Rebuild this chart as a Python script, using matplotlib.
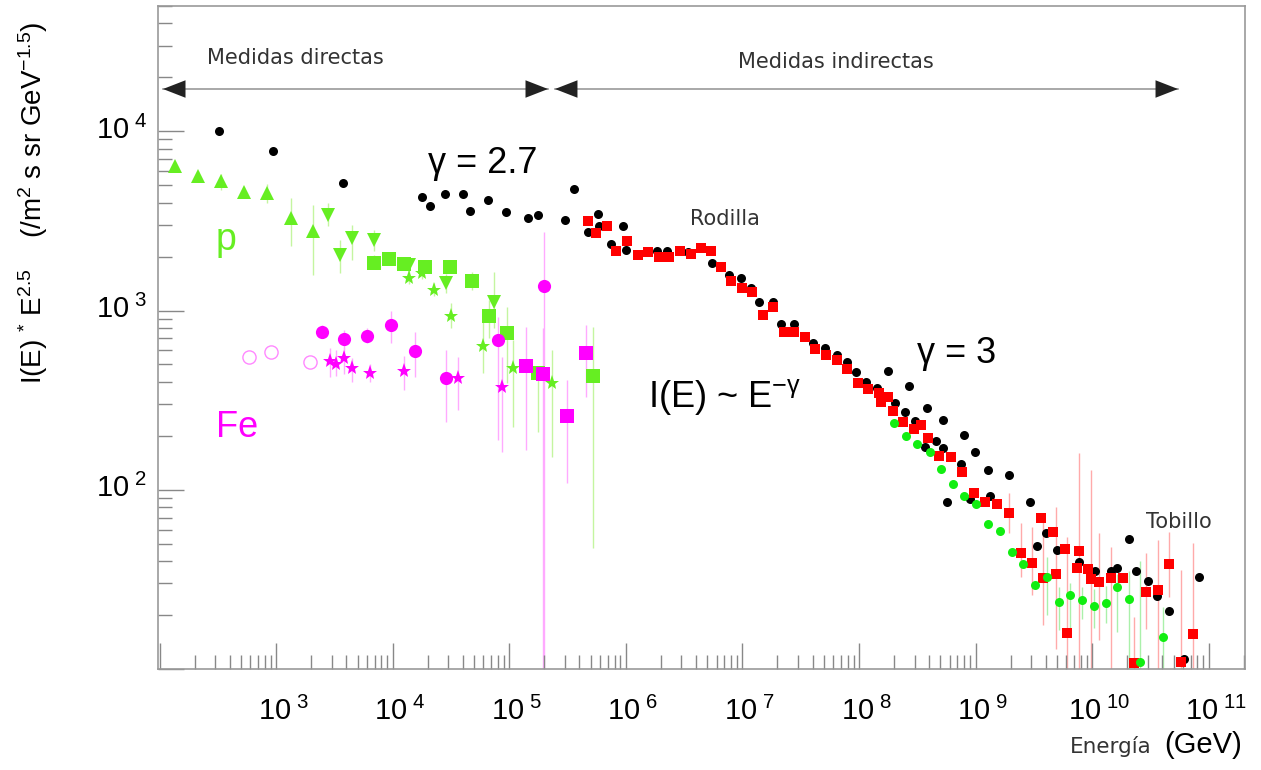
import numpy as np
import matplotlib
matplotlib.use('Agg')
import matplotlib.pyplot as plt
from matplotlib.ticker import LogLocator, NullFormatter
from matplotlib.transforms import ScaledTranslation

# all-particle spectrum, black circles (E in GeV, flux * E^2.5)
all_E = [324, 949, 3730, 17800, 20900, 28100, 39900, 46100, 65300, 93200, 146000, 177000,
         301000, 360000, 478000, 581000, 593000, 747000, 953000, 1.0e6, 1.84e6, 2.24e6,
         3.43e6, 5.49e6, 7.67e6, 9.66e6, 1.18e7, 1.39e7, 1.82e7, 2.14e7, 2.77e7, 4.01e7,
         5.12e7, 6.44e7, 7.85e7, 9.43e7, 1.14e8, 1.42e8, 1.76e8, 2.05e8, 2.49e8, 2.70e8,
         3.04e8, 3.68e8, 3.87e8, 4.57e8, 5.21e8, 5.31e8, 5.74e8, 7.57e8, 7.98e8, 8.95e8,
         9.98e8, 1.29e9, 1.33e9, 1.95e9, 2.93e9, 3.34e9, 4.02e9, 4.96e9, 7.66e9, 1.06e10,
         1.44e10, 1.65e10, 2.08e10, 2.36e10, 2.99e10, 3.59e10, 4.55e10, 6.16e10, 8.26e10]
all_F = [10000, 7730, 5150, 4280, 3810, 4470, 4470, 3600, 4120, 3560, 3280, 3400,
         3180, 4790, 2730, 3460, 2950, 2350, 2950, 2180, 2140, 2140,
         2110, 1850, 1570, 1517, 1335, 1109, 1114, 843, 843, 663,
         621, 565, 516, 456, 401, 371, 460, 306, 271, 381,
         243, 173, 285, 188, 170, 245, 85.7, 140, 202, 88.4,
         162, 129, 92.2, 121, 85.7, 48.4, 57.0, 46.0, 39.6, 35.3,
         35.3, 36.7, 53.2, 35.3, 30.9, 25.5, 21.0, 11.3, 32.6]

# red squares
red_E = [478000, 555000, 685000, 823000, 1.02e6, 1.26e6, 1.56e6, 1.94e6, 2.36e6, 2.92e6,
         3.60e6, 4.41e6, 5.37e6, 6.54e6, 7.98e6, 9.86e6, 1.22e7, 1.49e7, 1.84e7, 2.28e7,
         2.79e7, 3.44e7, 4.20e7, 5.21e7, 6.44e7, 7.93e7, 9.72e7, 1.20e8, 1.50e8, 1.54e8,
         1.79e8, 1.97e8, 2.40e8, 2.97e8, 3.38e8, 3.90e8, 4.87e8, 6.11e8, 7.69e8, 9.68e8,
         1.20e9, 1.54e9, 1.95e9, 2.44e9, 3.03e9, 3.62e9, 3.81e9, 4.59e9, 4.87e9, 5.85e9,
         6.12e9, 7.38e9, 7.73e9, 9.17e9, 9.73e9, 1.15e10, 1.45e10, 1.83e10, 2.30e10, 2.88e10,
         3.65e10, 4.59e10, 5.80e10, 7.30e10]
red_F = [3140, 2700, 2970, 2160, 2430, 2030, 2110, 1990, 2000, 2160,
         2070, 2230, 2140, 1740, 1466, 1343, 1268, 946, 1040, 763,
         763, 716, 611, 565, 531, 472, 396, 364, 345, 310,
         328, 276, 240, 217, 230, 195, 154, 153, 126, 96.2,
         85.7, 82.8, 74.5, 44.2, 39.1, 69.2, 32.2, 58.2, 33.7, 46.5,
         15.9, 36.4, 45.5, 35.9, 31.6, 30.6, 32.2, 32.2, 10.8, 26.9,
         27.5, 38.3, 11.0, 15.6]
red_err_E = [1.95e9, 2.44e9, 3.03e9, 3.81e9, 4.87e9, 6.12e9, 7.73e9, 9.73e9, 1.15e10,
             1.45e10, 2.30e10, 2.88e10, 3.65e10, 4.59e10, 5.80e10, 7.30e10]
red_err_lo = [57, 32.6, 25.8, 17.5, 13.0, 10, 10, 10, 14.5, 10, 10, 16.8, 10, 25.2, 10, 10]
red_err_hi = [95.5, 64.9, 62.1, 73.8, 80.3, 54.6, 160, 129, 57, 48, 19.5, 44.2, 52.4, 58.2, 35.6, 50.6]

# green circles
grn_E = [2.01e8, 2.53e8, 3.16e8, 4.06e8, 5.01e8, 6.35e8, 7.98e8, 1.01e9, 1.27e9, 1.62e9,
         2.07e9, 2.57e9, 3.24e9, 4.08e9, 5.19e9, 6.45e9, 8.22e9, 1.04e10, 1.31e10, 1.62e10,
         2.07e10, 2.58e10, 4.06e10]
grn_F = [237, 200, 180, 163, 131, 107, 92.2, 83.2, 64.3, 58.7,
         45.1, 38.3, 29.4, 32.4, 23.7, 25.8, 24.4, 22.4, 23.4, 28.5,
         24.7, 11.0, 15.1]
grn_err_E = [4.08e9, 5.19e9, 6.45e9, 8.22e9, 1.04e10, 1.31e10, 1.62e10, 2.07e10, 2.58e10, 4.06e10]
grn_err_lo = [20, 16.4, 15.8, 19, 17, 18, 16, 10, 10, 10]
grn_err_hi = [42, 28.7, 30, 28.7, 28, 29, 34, 35, 40, 22.2]

# protons (p)
p_up_E = [136, 213, 337, 535, 842, 1345, 2065]
p_up_F = [6370, 5610, 5260, 4560, 4530, 3280, 2760]
p_up_lo = [6000, 5200, 4700, 4250, 4000, 2280, 1580]
p_up_hi = [6700, 6000, 5800, 4900, 5100, 4250, 3890]
p_dn_E = [2810, 3540, 4460, 6920, 13900, 28700, 74500]
p_dn_F = [3430, 2050, 2540, 2460, 1800, 1420, 1122]
p_dn_lo = [2950, 1620, 1920, 2150, 1650, 1250, 798]
p_dn_hi = [3980, 2480, 3010, 2800, 1950, 1600, 1650]
p_sq_E = [6920, 9370, 12400, 18950, 31000, 47600, 67400, 95000, 177000, 519000]
p_sq_F = [1850, 1940, 1820, 1740, 1740, 1466, 934, 748, 447, 431]
p_sq_lo = [1700, 1800, 1700, 1620, 1620, 1300, 700, 393, 211, 47.2]
p_sq_hi = [2050, 2100, 1950, 1900, 1880, 1650, 1150, 1052, 487, 814]
p_st_E = [13900, 17800, 22700, 31700, 59300, 108000, 231000]
p_st_F = [1517, 1617, 1306, 934, 635, 476, 393]
p_st_lo = [1400, 1500, 1200, 800, 447, 225, 153]
p_st_hi = [1650, 1750, 1420, 1100, 885, 686, 603]

# iron (Fe)
fe_ci_E = [2490, 3830, 6070, 9630, 15600, 28700, 79600, 199000]
fe_ci_F = [763, 695, 725, 832, 595, 419, 686, 1374]
fe_ci_lo = [700, 610, 660, 658, 428, 240, 190, 10]
fe_ci_hi = [830, 780, 800, 1000, 763, 603, 925, 2750]
fe_sq_E = [138000, 196000, 315000, 453000]
fe_sq_F = [491, 443, 258, 578]
fe_sq_lo = [167, 10, 109, 331]
fe_sq_hi = [814, 800, 410, 832]
fe_st_E = [2900, 3250, 3830, 4510, 6400, 12400, 36700, 87300]
fe_st_F = [526, 504, 542, 476, 447, 462, 419, 373]
fe_st_lo = [428, 430, 440, 400, 400, 360, 279, 163]
fe_st_hi = [617, 600, 620, 540, 500, 560, 553, 553]
fe_op_E = [586, 901, 1960]
fe_op_F = [553, 590, 519]

x_tick_exps = [2, 3, 4, 5, 6, 7, 8, 9, 10, 11]
y_tick_exps = [1, 2, 3, 4]

plt.rcParams['font.family'] = ['Liberation Sans', 'DejaVu Sans']
plt.rcParams['mathtext.fontset'] = 'custom'
plt.rcParams['mathtext.rm'] = 'Liberation Sans'
plt.rcParams['mathtext.it'] = 'Liberation Sans:italic'

fig = plt.figure(figsize=(12.61, 7.70), dpi=100)
ax = fig.add_axes([0.1253, 0.1312, 0.862, 0.861])
ax.set_xscale('log')
ax.set_yscale('log')
ax.set_xlim(97, 2.05e11)
ax.set_ylim(10, 5.0e4)

# error bars (light colours)
PG = '#66ee22'
MG = '#ff00ff'
ax.vlines(red_err_E, red_err_lo, red_err_hi, color='#ffaaaa', lw=1, zorder=1)
ax.vlines(grn_err_E, grn_err_lo, grn_err_hi, color='#aaf0aa', lw=1, zorder=1)
for E, lo, hi in [(p_up_E, p_up_lo, p_up_hi), (p_dn_E, p_dn_lo, p_dn_hi),
                  (p_sq_E, p_sq_lo, p_sq_hi), (p_st_E, p_st_lo, p_st_hi)]:
    ax.vlines(E, lo, hi, color='#c4f5a0', lw=1, zorder=1)
for E, lo, hi in [(fe_ci_E, fe_ci_lo, fe_ci_hi), (fe_sq_E, fe_sq_lo, fe_sq_hi),
                  (fe_st_E, fe_st_lo, fe_st_hi)]:
    ax.vlines(E, lo, hi, color='#ffaaff', lw=1, zorder=1)

ax.plot(all_E, all_F, 'o', color='black', ms=6.5, mew=0, ls='none', zorder=3)
ax.plot(red_E, red_F, 's', color='#ff0000', ms=6.5, mew=0, ls='none', zorder=4)
ax.plot(grn_E, grn_F, 'o', color='#11ee11', ms=6.5, mew=0, ls='none', zorder=4)

ax.plot(p_up_E, p_up_F, '^', color=PG, ms=10, mew=0, ls='none', zorder=3)
ax.plot(p_dn_E, p_dn_F, 'v', color=PG, ms=10, mew=0, ls='none', zorder=3)
ax.plot(p_sq_E, p_sq_F, 's', color=PG, ms=9.5, mew=0, ls='none', zorder=3)
ax.plot(p_st_E, p_st_F, '*', color=PG, ms=11, mew=0, ls='none', zorder=3)

ax.plot(fe_ci_E, fe_ci_F, 'o', color=MG, ms=9.5, mew=0, ls='none', zorder=3)
ax.plot(fe_sq_E, fe_sq_F, 's', color=MG, ms=10, mew=0, ls='none', zorder=3)
ax.plot(fe_st_E, fe_st_F, '*', color=MG, ms=11, mew=0, ls='none', zorder=3)
ax.plot(fe_op_E, fe_op_F, 'o', mfc='none', mec='#ff88ff', ms=9.5, mew=1, ls='none', zorder=3)

# axes styling
for s in ax.spines.values():
    s.set_color('#999999')
    s.set_linewidth(1.2)
ax.set_xticks([10.0 ** k for k in x_tick_exps])
ax.set_xticklabels(['' if k == 2 else r'$10^{\ %d}$' % k for k in x_tick_exps])
ax.set_yticks([10.0 ** k for k in y_tick_exps])
ax.set_yticklabels(['' if k == 1 else r'$10^{\ %d}$' % k for k in y_tick_exps])
ax.xaxis.set_minor_locator(LogLocator(base=10, subs=np.arange(2, 10), numticks=60))
ax.yaxis.set_minor_locator(LogLocator(base=10, subs=np.arange(2, 10), numticks=60))
ax.xaxis.set_minor_formatter(NullFormatter())
ax.yaxis.set_minor_formatter(NullFormatter())
ax.tick_params(which='both', direction='in', color='#888888', width=1, top=False, right=False)
ax.tick_params(which='major', length=19, labelsize=21)
ax.tick_params(which='minor', length=10)
ax.tick_params(axis='x', pad=20)
ax.tick_params(axis='y', pad=8)
for lab in ax.get_xticklabels():
    lab.set_transform(lab.get_transform() + ScaledTranslation(0.07, 0, fig.dpi_scale_trans))
for lab in ax.get_yticklabels():
    lab.set_transform(lab.get_transform() + ScaledTranslation(0, 0.04, fig.dpi_scale_trans))

# arrows for direct / indirect measurements
ya = 0.8748
for x0, x1 in [(0.0046, 0.3588), (0.3652, 0.9384)]:
    ax.plot([x0, x1], [ya, ya], color='#999999', lw=1.2, transform=ax.transAxes, zorder=2)
    ax.annotate('', xy=(x1, ya), xytext=(x0, ya), xycoords='axes fraction',
                arrowprops=dict(arrowstyle='<|-|>,head_length=0.9,head_width=0.35',
                                color='#222222', lw=0, mutation_scale=18, shrinkA=0, shrinkB=0))

dv = dict(family='DejaVu Sans', fontsize=15, color='#333333', transform=ax.transAxes)
ax.text(0.1260, 0.9216, 'Medidas directas', ha='center', va='center', **dv)
ax.text(0.6237, 0.9155, 'Medidas indirectas', ha='center', va='center', **dv)
ax.text(0.5216, 0.6697, 'Rodilla', ha='center', va='baseline', **dv)
ax.text(0.9393, 0.2122, 'Tobillo', ha='center', va='baseline', **dv)

ax.text(0.2990, 0.7481, 'γ = 2.7', fontsize=26, ha='center', va='baseline', transform=ax.transAxes)
ax.text(0.7346, 0.4615, 'γ = 3', fontsize=26, ha='center', va='baseline', transform=ax.transAxes)
ax.text(0.5216, 0.3956, r'I(E) ~ E$^{\mathrm{-γ}}$', fontsize=26, ha='center', va='baseline',
        transform=ax.transAxes)
ax.text(0.0626, 0.632, 'p', fontsize=27, color=PG, ha='center', va='baseline', transform=ax.transAxes)
ax.text(0.0731, 0.3504, 'Fe', fontsize=26, color=MG, ha='center', va='baseline', transform=ax.transAxes)

fig.text(0.026, 0.737, r'I(E) $^{*}$ E$^{2.5}$    (/m$^{2}$ s sr GeV$^{-1.5}$)', fontsize=20,
         rotation=90, ha='center', va='center')
fig.text(0.985, 0.022, '(GeV)', fontsize=21, ha='right', va='baseline')
fig.text(0.9135, 0.022, 'Energía', family='DejaVu Sans', fontsize=15.5, color='#333333',
         ha='right', va='baseline')

fig.savefig('out.png', dpi=100)
